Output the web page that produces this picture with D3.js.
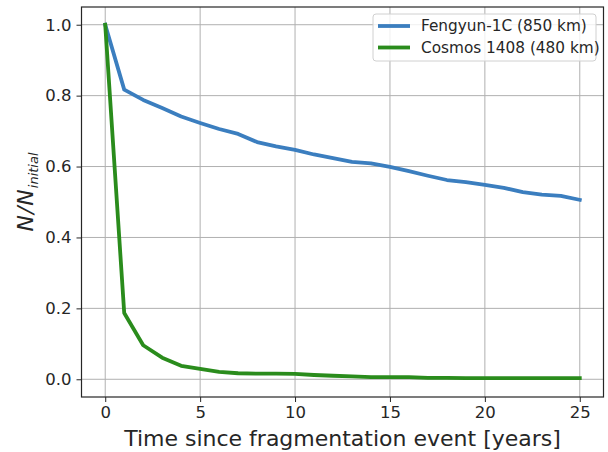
<!DOCTYPE html>
<html>
<head>
<meta charset="utf-8">
<script src="https://cdn.jsdelivr.net/npm/d3@7"></script>
<style>
  html, body { margin: 0; padding: 0; background: #fff; }
  svg { display: block; font-family: "DejaVu Sans", sans-serif; }
</style>
</head>
<body>
<svg id="chart" width="608" height="452"></svg>
<script>
// Years since the breakup event
const years = d3.range(0, 26);

// Fraction of fragments still in orbit, N / N_initial
const fengyun = [1.000, 0.817, 0.788, 0.765, 0.741, 0.723, 0.706, 0.692, 0.669, 0.657,
                 0.647, 0.634, 0.624, 0.613, 0.609, 0.599, 0.587, 0.574, 0.562, 0.556,
                 0.548, 0.540, 0.528, 0.521, 0.517, 0.506];
const cosmos = [1.000, 0.187, 0.096, 0.061, 0.038, 0.029, 0.021, 0.017, 0.016, 0.016,
                0.015, 0.012, 0.010, 0.008, 0.006, 0.006, 0.006, 0.004, 0.004, 0.003,
                0.003, 0.003, 0.003, 0.003, 0.003, 0.003];

const seriesNames = ["Fengyun-1C (850 km)", "Cosmos 1408 (480 km)"];
const seriesColors = ["#3b7ebf", "#2a8c1c"];
const xTicks = [0, 5, 10, 15, 20, 25];
const yTicks = [0.0, 0.2, 0.4, 0.6, 0.8, 1.0];

const svg = d3.select("#chart");
const plot = { left: 81.5, right: 603.5, top: 7, bottom: 397 };

const x = d3.scaleLinear().domain([-1.25, 26.25]).range([plot.left, plot.right]);
const y = d3.scaleLinear().domain([-0.05, 1.05]).range([plot.bottom, plot.top]);

// Grid
const grid = svg.append("g").attr("stroke", "#b0b0b0").attr("stroke-width", 1);
grid.selectAll(".gx").data(xTicks).join("line")
  .attr("x1", d => x(d)).attr("x2", d => x(d))
  .attr("y1", plot.top).attr("y2", plot.bottom);
grid.selectAll(".gy").data(yTicks).join("line")
  .attr("x1", plot.left).attr("x2", plot.right)
  .attr("y1", d => y(d)).attr("y2", d => y(d));

// Series lines
const series = [fengyun, cosmos];
const line = d3.line().x((d, i) => x(years[i])).y(d => y(d));
series.forEach((vals, k) => {
  svg.append("path")
    .datum(vals)
    .attr("d", line)
    .attr("fill", "none")
    .attr("stroke", seriesColors[k])
    .attr("stroke-width", 3.8)
    .attr("stroke-linejoin", "round")
    .attr("stroke-linecap", "square");
});

// Axes
const xAxis = svg.append("g")
  .attr("transform", `translate(0,${plot.bottom})`)
  .call(d3.axisBottom(x).tickValues(xTicks).tickFormat(d3.format("d")).tickSizeOuter(0).tickSize(5).tickPadding(4));
const yAxis = svg.append("g")
  .attr("transform", `translate(${plot.left},0)`)
  .call(d3.axisLeft(y).tickValues(yTicks).tickFormat(d3.format(".1f")).tickSizeOuter(0).tickSize(5).tickPadding(5));
[xAxis, yAxis].forEach(a => {
  a.select(".domain").remove();
  a.selectAll("line").attr("stroke", "#262626").attr("stroke-width", 1);
  a.selectAll("text").attr("font-size", 16.5).attr("fill", "#262626")
    .attr("font-family", "DejaVu Sans, sans-serif");
});

// Frame
svg.append("rect")
  .attr("x", plot.left).attr("y", plot.top)
  .attr("width", plot.right - plot.left).attr("height", plot.bottom - plot.top)
  .attr("fill", "none").attr("stroke", "#262626").attr("stroke-width", 1.2);

// Axis labels
svg.append("text")
  .attr("x", (plot.left + plot.right) / 2).attr("y", 446)
  .attr("text-anchor", "middle")
  .attr("font-size", 22).attr("fill", "#262626")
  .text("Time since fragmentation event [years]");

const yl = svg.append("text")
  .attr("transform", `translate(33,${(plot.top + plot.bottom) / 2 - 10}) rotate(-90)`)
  .attr("text-anchor", "middle")
  .attr("font-size", 22).attr("fill", "#262626")
  .attr("font-style", "italic");
yl.append("tspan").attr("letter-spacing", 1).text("N/N");
yl.append("tspan").attr("font-size", 13).attr("dy", 5).text("initial");

// Legend
const lg = svg.append("g").attr("transform", "translate(373,14)");
lg.append("rect")
  .attr("width", 223).attr("height", 47).attr("rx", 3)
  .attr("fill", "#fff").attr("fill-opacity", 0.8)
  .attr("stroke", "#d0d0d0").attr("stroke-width", 1);
seriesNames.forEach((name, k) => {
  const yy = 12 + k * 21.5;
  lg.append("line")
    .attr("x1", 5).attr("x2", 37).attr("y1", yy).attr("y2", yy)
    .attr("stroke", seriesColors[k]).attr("stroke-width", 3.8);
  lg.append("text")
    .attr("x", 48).attr("y", yy).attr("dy", "0.35em")
    .attr("font-size", 15.3).attr("fill", "#262626")
    .text(name);
});
</script>
</body>
</html>
